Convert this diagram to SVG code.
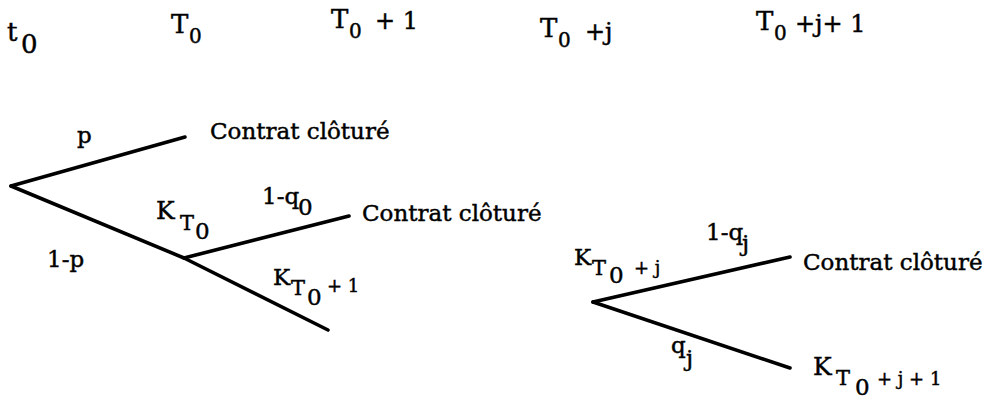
<svg xmlns="http://www.w3.org/2000/svg" width="1008" height="398" viewBox="0 0 1008 398">
<style>
text{font-family:"DejaVu Serif","Liberation Serif",serif;fill:#000;stroke:#000;stroke-width:0.45;font-size:23px}
.h{font-size:26px}
.hs{font-size:20px}
.hp{font-size:24px}
.s{font-size:21px}
.sm{font-size:18px}
.k{font-size:25px}
.br{fill:none;stroke:#000;stroke-width:3.6;stroke-linecap:round;stroke-linejoin:round}
</style>
<rect width="1008" height="398" fill="#fff"/>
<g id="header">
<text class="h" x="7" y="41">t<tspan x="21" y="53">0</tspan></text>
<text class="h" x="171" y="33">T<tspan class="hs" x="189" y="43">0</tspan></text>
<text class="h" x="331" y="28">T<tspan class="hs" x="349" y="38">0</tspan><tspan class="hp" x="375" y="29">+ 1</tspan></text>
<text class="h" x="540" y="37">T<tspan class="hs" x="558" y="47">0</tspan><tspan class="hp" x="585" y="40">+j</tspan></text>
<text class="h" x="756" y="30">T<tspan class="hs" x="774" y="40">0</tspan><tspan class="hp" x="795" y="32">+j+ 1</tspan></text>
</g>
<g id="connectors">
<path class="br" d="M11,186 L185,137"/>
<path class="br" d="M11,186 L184,258 L328,330"/>
<path class="br" d="M184,258 L349,216"/>
<path class="br" d="M593,302 L790,257"/>
<path class="br" d="M593,302 L790,368"/>
</g>
<g id="node-closed-1"><text x="210" y="139">Contrat clôturé</text></g>
<g id="label-p"><text x="77" y="143">p</text></g>
<g id="label-1-p"><text x="47" y="267">1-p</text></g>
<g id="node-KT0"><text x="156" y="219"><tspan class="k">K</tspan><tspan class="s" x="180" y="230">T</tspan><tspan x="195" y="239">0</tspan></text></g>
<g id="label-1-q0"><text x="262" y="204">1-q<tspan x="298" y="215">0</tspan></text></g>
<g id="node-closed-2"><text x="362" y="221">Contrat clôturé</text></g>
<g id="node-KT0-1"><text x="273" y="285">K<tspan class="s" x="291" y="295">T</tspan><tspan x="307" y="305">0</tspan><tspan class="sm" x="327" y="292">+ 1</tspan></text></g>
<g id="node-KT0-j"><text x="574" y="265">K<tspan class="s" x="592" y="275">T</tspan><tspan x="609" y="283">0</tspan><tspan class="sm" x="634" y="274">+ j</tspan></text></g>
<g id="label-1-qj"><text x="706" y="240">1-q<tspan x="742" y="251">j</tspan></text></g>
<g id="node-closed-3"><text x="803" y="270">Contrat clôturé</text></g>
<g id="label-qj"><text x="671" y="353">q<tspan x="686" y="366">j</tspan></text></g>
<g id="node-KT0-j-1"><text x="813" y="375"><tspan class="k">K</tspan><tspan class="s" x="836" y="385">T</tspan><tspan x="855" y="395">0</tspan><tspan class="sm" x="877" y="385">+ j + 1</tspan></text></g>
</svg>
